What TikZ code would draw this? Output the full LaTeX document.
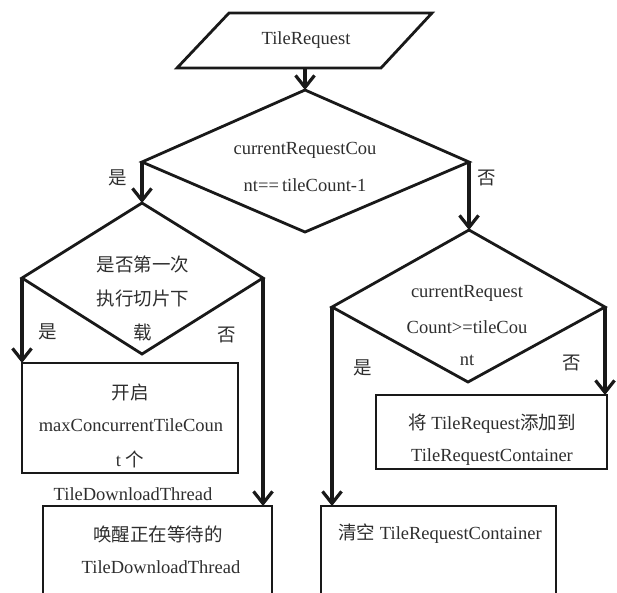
\documentclass[tikz,border=0pt]{standalone}
\usepackage{fontspec}
\setmainfont{Liberation Serif}
\newfontfamily\cjk{Noto Sans CJK SC}
\usetikzlibrary{arrows.meta}
\begin{document}
\begin{tikzpicture}[x=1pt,y=-1pt,
  outline/.style={line width=2.8pt, line join=miter, draw=black!90},
  flow/.style={line width=3.2pt, draw=black!90, -{Straight Barb[length=12pt,width=19pt]}},
  txt/.style={font=\fontsize{18.5}{20}\selectfont, text=black!82, inner sep=0pt}]
\useasboundingbox (0,0) rectangle (617,592);
\begin{scope}
\clip (0,0) rectangle (617,592);
% ---- vertices ----
\coordinate (p1) at (229,13); \coordinate (p2) at (432,13);
\coordinate (p3) at (381,68); \coordinate (p4) at (177,68);
\coordinate (pb) at (305,68);
\coordinate (d1t) at (305,90); \coordinate (d1l) at (142,162);
\coordinate (d1r) at (469,162); \coordinate (d1b) at (305,232);
\coordinate (d2t) at (142,203); \coordinate (d2l) at (22,278);
\coordinate (d2r) at (263,278); \coordinate (d2b) at (142,354);
\coordinate (d3t) at (469,230); \coordinate (d3l) at (332,307);
\coordinate (d3r) at (605,307); \coordinate (d3b) at (468,382);
\coordinate (r1a) at (22,363);  \coordinate (r1b) at (238,473);
\coordinate (r2a) at (43,506);  \coordinate (r2b) at (272,610);
\coordinate (r3a) at (376,395); \coordinate (r3b) at (607,469);
\coordinate (r4a) at (321,506); \coordinate (r4b) at (556,610);
\coordinate (r1t) at (22,363);  \coordinate (r2t) at (263,506);
\coordinate (r3t) at (605,395); \coordinate (r4t) at (332,506);
% ---- shapes ----
\draw[outline] (p1) -- (p2) -- (p3) -- (p4) -- cycle;
\draw[outline] (d1t) -- (d1r) -- (d1b) -- (d1l) -- cycle;
\draw[outline] (d2t) -- (d2r) -- (d2b) -- (d2l) -- cycle;
\draw[outline] (d3t) -- (d3r) -- (d3b) -- (d3l) -- cycle;
\draw[outline] (r1a) rectangle (r1b);
\draw[outline] (r2a) rectangle (r2b);
\draw[outline] (r3a) rectangle (r3b);
\draw[outline] (r4a) rectangle (r4b);
% ---- texts ----
\node[txt] (tr) at (306,40) {TileRequest};
\node[txt] (c1a) at (305,150) {currentRequestCou};
\node[txt] (c1b) at (305,185) {nt==\,tileCount-1};
\node[txt] (c2a) at (143,264) {\cjk 是否第一次};
\node[txt] (c2b) at (143,298) {\cjk 执行切片下};
\node[txt] (c2c) at (143,332) {\cjk 载};
\node[txt] (c3a) at (467,293) {currentRequest};
\node[txt] (c3b) at (467,327) {Count>=tileCou};
\node[txt] (c3c) at (467,360) {nt};
\node[txt] (b1a) at (130,392) {\cjk 开启};
\node[txt] (b1b) at (131,425) {maxConcurrentTileCoun};
\node[txt] (b1c) at (130,459) {t {\cjk 个}};
\node[txt] (b1d) at (133,494) {TileDownloadThread};
\node[txt] (b2a) at (158,534) {\cjk 唤醒正在等待的};
\node[txt] (b2b) at (161,567) {TileDownloadThread};
\node[txt] (b3a) at (492,424) {{\cjk 将} TileRequest{\cjk 添加到}};
\node[txt] (b3b) at (492,457) {TileRequestContainer};
\node[txt] (b4a) at (440,534) {{\cjk 清空} TileRequestContainer};
% ---- connectors ----
\draw[flow] (pb) -- (d1t);
\draw[flow] (d1l) -- (d2t);
\draw[flow] (d1r) -- (d3t);
\draw[flow] (d2l) -- (r1t);
\draw[flow] (d2r) -- (r2t);
\draw[flow] (d3l) -- (r4t);
\draw[flow] (d3r) -- (r3t);
% ---- branch labels ----
\node[txt] (y1) at (118,178) {\cjk 是};
\node[txt] (n1) at (487,178) {\cjk 否};
\node[txt] (y2) at (48,332) {\cjk 是};
\node[txt] (n2) at (227,335) {\cjk 否};
\node[txt] (y3) at (363,368) {\cjk 是};
\node[txt] (n3) at (572,363) {\cjk 否};
\end{scope}
\end{tikzpicture}
\end{document}
